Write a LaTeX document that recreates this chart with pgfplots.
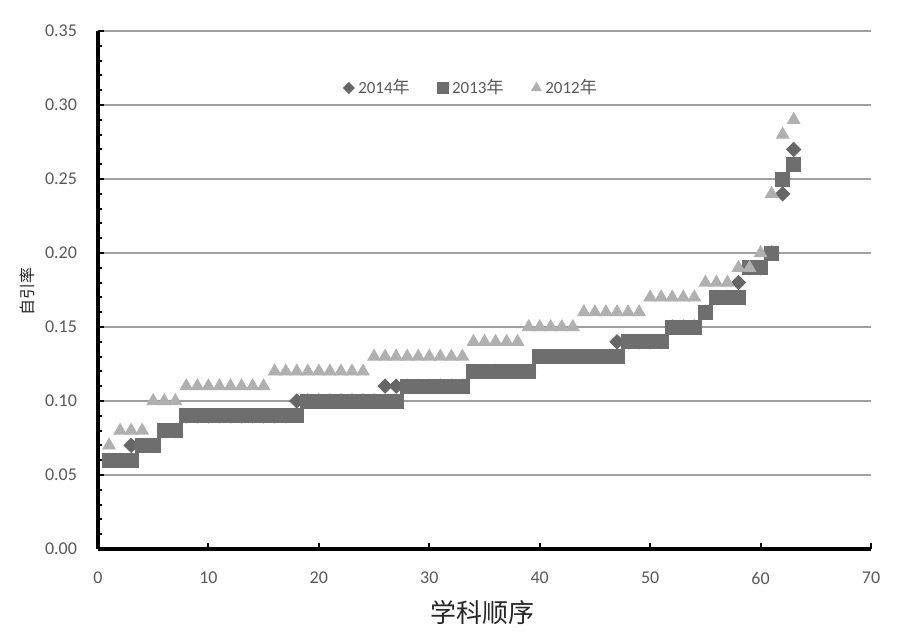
\documentclass[border=0pt]{standalone}
\usepackage{pgfplots}
\pgfplotsset{compat=1.18}
\usepackage{fontspec}
\setmainfont{Carlito}
\newfontfamily\cjk{Noto Sans CJK SC}
\definecolor{tickgray}{HTML}{595959}
\definecolor{gridgray}{HTML}{A0A0A0}
\definecolor{c2014}{HTML}{666666}
\definecolor{c2013}{HTML}{6E6E6E}
\definecolor{c2012}{HTML}{B0B0B0}
\begin{document}
\begin{tikzpicture}
\begin{axis}[name=ax,
  scale only axis, width=386.5pt, height=259pt,
  xmin=0, xmax=70, ymin=0, ymax=0.35,
  xtick={0,10,20,30,40,50,60,70},
  ytick={0,0.05,0.10,0.15,0.20,0.25,0.30,0.35},
  minor y tick num=4,
  axis x line*=bottom, axis y line*=left,
  axis line style={line width=2pt, black},
  tick align=inside, major tick length=3pt, minor tick length=2pt,
  tick style={black, line width=1pt},
  ymajorgrids, major grid style={color=gridgray, line width=1.4pt},
  /pgf/number format/assume math mode=true,
  y tick label style={/pgf/number format/.cd, fixed, fixed zerofill, precision=2, /tikz/.cd,
     font=\fontsize{9}{10}\selectfont, text=tickgray, xshift=-7pt},
  x tick label style={font=\fontsize{9}{10}\selectfont, text=tickgray, yshift=-8pt},
  xlabel={\cjk 学科顺序},
  xlabel style={font=\fontsize{13}{15}\selectfont, text=black!85, at={(axis description cs:0.497,0)}, anchor=center, yshift=-32pt},
  ylabel={\cjk 自引率},
  ylabel style={font=\fontsize{8}{9}\selectfont, text=black!85, at={(axis description cs:0,0.498)}, anchor=center, yshift=35.5pt},
  legend style={at={(axis description cs:0.484,0.89)}, anchor=center, draw=none, fill=none,
     font=\fontsize{8.5}{10}\selectfont, text=tickgray, legend columns=3,
     /tikz/every even column/.append style={column sep=12pt}},
]
\addplot[only marks, mark=square*, mark size=2.5pt, color=c2014, mark options={fill=c2014, draw=c2014, rotate=45}, legend image post style={mark size=1.9pt}] coordinates {
(1,0.06)(2,0.06)(3,0.07)(4,0.07)(5,0.07)(6,0.08)(7,0.08)
(8,0.09)(9,0.09)(10,0.09)(11,0.09)(12,0.09)(13,0.09)(14,0.09)(15,0.09)(16,0.09)(17,0.09)
(18,0.10)(19,0.10)(20,0.10)(21,0.10)(22,0.10)(23,0.10)(24,0.10)(25,0.10)
(26,0.11)(27,0.11)(28,0.11)(29,0.11)(30,0.11)(31,0.11)(32,0.11)(33,0.11)
(34,0.12)(35,0.12)(36,0.12)(37,0.12)(38,0.12)(39,0.12)
(40,0.13)(41,0.13)(42,0.13)(43,0.13)(44,0.13)(45,0.13)(46,0.13)
(47,0.14)(48,0.14)(49,0.14)(50,0.14)(51,0.14)
(52,0.15)(53,0.15)(54,0.15)(55,0.16)(56,0.17)(57,0.17)(58,0.18)
(59,0.19)(60,0.19)(61,0.20)(62,0.24)(63,0.27)
};
\addlegendentry{2014{\cjk 年}}
\addplot[only marks, mark=square*, mark size=3.5pt, color=c2013, mark options={fill=c2013, draw=c2013}, legend image post style={mark size=2.6pt}] coordinates {
(1,0.06)(2,0.06)(3,0.06)(4,0.07)(5,0.07)(6,0.08)(7,0.08)
(8,0.09)(9,0.09)(10,0.09)(11,0.09)(12,0.09)(13,0.09)(14,0.09)(15,0.09)(16,0.09)(17,0.09)(18,0.09)
(19,0.10)(20,0.10)(21,0.10)(22,0.10)(23,0.10)(24,0.10)(25,0.10)(26,0.10)(27,0.10)
(28,0.11)(29,0.11)(30,0.11)(31,0.11)(32,0.11)(33,0.11)
(34,0.12)(35,0.12)(36,0.12)(37,0.12)(38,0.12)(39,0.12)
(40,0.13)(41,0.13)(42,0.13)(43,0.13)(44,0.13)(45,0.13)(46,0.13)(47,0.13)
(48,0.14)(49,0.14)(50,0.14)(51,0.14)
(52,0.15)(53,0.15)(54,0.15)(55,0.16)(56,0.17)(57,0.17)(58,0.17)
(59,0.19)(60,0.19)(61,0.20)(62,0.25)(63,0.26)
};
\addlegendentry{2013{\cjk 年}}
\addplot[only marks, mark=triangle*, mark size=3.6pt, color=c2012, mark options={fill=c2012, draw=c2012}, legend image post style={mark size=2.8pt}] coordinates {
(1,0.07)(2,0.08)(3,0.08)(4,0.08)(5,0.10)(6,0.10)(7,0.10)
(8,0.11)(9,0.11)(10,0.11)(11,0.11)(12,0.11)(13,0.11)(14,0.11)(15,0.11)
(16,0.12)(17,0.12)(18,0.12)(19,0.12)(20,0.12)(21,0.12)(22,0.12)(23,0.12)(24,0.12)
(25,0.13)(26,0.13)(27,0.13)(28,0.13)(29,0.13)(30,0.13)(31,0.13)(32,0.13)(33,0.13)
(34,0.14)(35,0.14)(36,0.14)(37,0.14)(38,0.14)
(39,0.15)(40,0.15)(41,0.15)(42,0.15)(43,0.15)
(44,0.16)(45,0.16)(46,0.16)(47,0.16)(48,0.16)(49,0.16)
(50,0.17)(51,0.17)(52,0.17)(53,0.17)(54,0.17)
(55,0.18)(56,0.18)(57,0.18)(58,0.19)(59,0.19)(60,0.20)(61,0.24)(62,0.28)(63,0.29)
};
\addlegendentry{2012{\cjk 年}}
\end{axis}
\pgfresetboundingbox
\path[use as bounding box] ([shift={(-49pt,-47pt)}]ax.south west) rectangle ([shift={(13pt,15.5pt)}]ax.north east);
\end{tikzpicture}
\end{document}
